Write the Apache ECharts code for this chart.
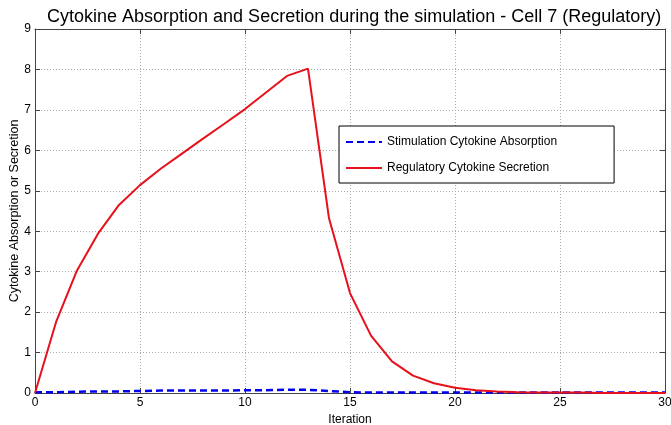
<!DOCTYPE html>
<html>
<head>
<meta charset="utf-8">
<script src="https://cdn.jsdelivr.net/npm/echarts@6/dist/echarts.min.js"></script>
<style>
  html, body { margin: 0; padding: 0; background: #fff; }
  #chart { width: 671px; height: 425px; }
</style>
</head>
<body>
<div id="chart"></div>
<script>
// Iteration steps 0..30
const iterations = [0,1,2,3,4,5,6,7,8,9,10,11,12,13,14,15,16,17,18,19,20,21,22,23,24,25,26,27,28,29,30];

// Stimulation cytokine absorbed by the cell at each iteration
const absorption = [0.02,0.02,0.03,0.04,0.04,0.05,0.06,0.06,0.06,0.06,0.07,0.07,0.08,0.08,0.05,0.02,0.01,0.01,0.01,0.01,0.01,0.01,0.01,0.01,0.01,0.01,0.01,0.01,0.01,0.01,0.01];

// Regulatory cytokine secreted by the cell at each iteration
const secretion = [0,1.75,3.03,3.94,4.65,5.14,5.55,5.92,6.29,6.65,7.02,7.43,7.84,8.02,4.32,2.47,1.42,0.78,0.43,0.24,0.13,0.07,0.04,0.02,0.01,0.01,0.01,0,0,0,0];

const xTicks = [0,5,10,15,20,25,30];
const yTicks = [0,1,2,3,4,5,6,7,8,9];

const FONT = 'Liberation Sans, Arial, sans-serif';
const chart = echarts.init(document.getElementById('chart'), null, { renderer: 'canvas' });

const pairs = (ys) => iterations.map((x, i) => [x, ys[i]]);

const frameLine = { show: true, onZero: false, lineStyle: { color: '#444', width: 1 } };
const innerTick = { show: true, inside: true, length: 5, lineStyle: { color: '#444' } };

chart.setOption({
  animation: false,
  backgroundColor: '#fff',
  title: {
    text: 'Cytokine Absorption and Secretion during the simulation - Cell 7 (Regulatory)',
    left: 42,
    top: 3,
    textStyle: { fontFamily: FONT, fontSize: 18, fontWeight: 'normal', color: '#000' }
  },
  grid: { left: 35, right: 6, top: 29, bottom: 32, containLabel: false, outerBoundsMode: 'none' },
  legend: {
    orient: 'vertical',
    left: 339,
    top: 126,
    padding: [10, 57, 9, 6],
    itemGap: 14,
    itemWidth: 36,
    itemHeight: 12,
    backgroundColor: '#fff',
    borderColor: '#000',
    borderWidth: 1,
    borderRadius: 0,
    itemStyle: { opacity: 0 },
    textStyle: { fontFamily: FONT, fontSize: 12, color: '#000' },
    data: ['Stimulation Cytokine Absorption', 'Regulatory Cytokine Secretion']
  },
  xAxis: [
    {
      type: 'value',
      min: 0, max: 30, interval: 5,
      name: 'Iteration',
      nameLocation: 'middle',
      nameGap: 15,
      nameTextStyle: { fontFamily: FONT, fontSize: 12, color: '#000' },
      axisLine: frameLine,
      axisTick: innerTick,
      axisLabel: { fontFamily: FONT, fontSize: 12, color: '#000', margin: 4,
        formatter: (v) => xTicks.includes(v) ? String(v) : '' },
      splitLine: { show: true, lineStyle: { color: '#aaa', type: [1, 2], width: 1 } }
    },
    {
      type: 'value', position: 'top',
      min: 0, max: 30, interval: 5,
      axisLine: frameLine, axisTick: innerTick,
      axisLabel: { show: false }, splitLine: { show: false }
    }
  ],
  yAxis: [
    {
      type: 'value',
      min: 0, max: 9, interval: 1,
      name: 'Cytokine Absorption or Secretion',
      nameLocation: 'middle',
      nameGap: 14,
      nameMoveOverlap: false,
      nameTextStyle: { fontFamily: FONT, fontSize: 12.5, color: '#000' },
      axisLine: frameLine,
      axisTick: innerTick,
      axisLabel: { fontFamily: FONT, fontSize: 12, color: '#000', margin: 4,
        formatter: (v) => yTicks.includes(v) ? String(v) : '' },
      splitLine: { show: true, lineStyle: { color: '#aaa', type: [1, 2], width: 1 } }
    },
    {
      type: 'value', position: 'right',
      min: 0, max: 9, interval: 1,
      axisLine: frameLine, axisTick: innerTick,
      axisLabel: { show: false }, splitLine: { show: false }
    }
  ],
  series: [
    {
      name: 'Stimulation Cytokine Absorption',
      type: 'line',
      data: pairs(absorption),
      showSymbol: false,
      symbol: 'none',
      color: '#0000ee',
      lineStyle: { color: '#0000ee', width: 2.5, type: [7, 4] },
      z: 3
    },
    {
      name: 'Regulatory Cytokine Secretion',
      type: 'line',
      data: pairs(secretion),
      showSymbol: false,
      symbol: 'none',
      color: '#e8101a',
      lineStyle: { color: '#e8101a', width: 2 },
      z: 4
    }
  ]
});
</script>
</body>
</html>
